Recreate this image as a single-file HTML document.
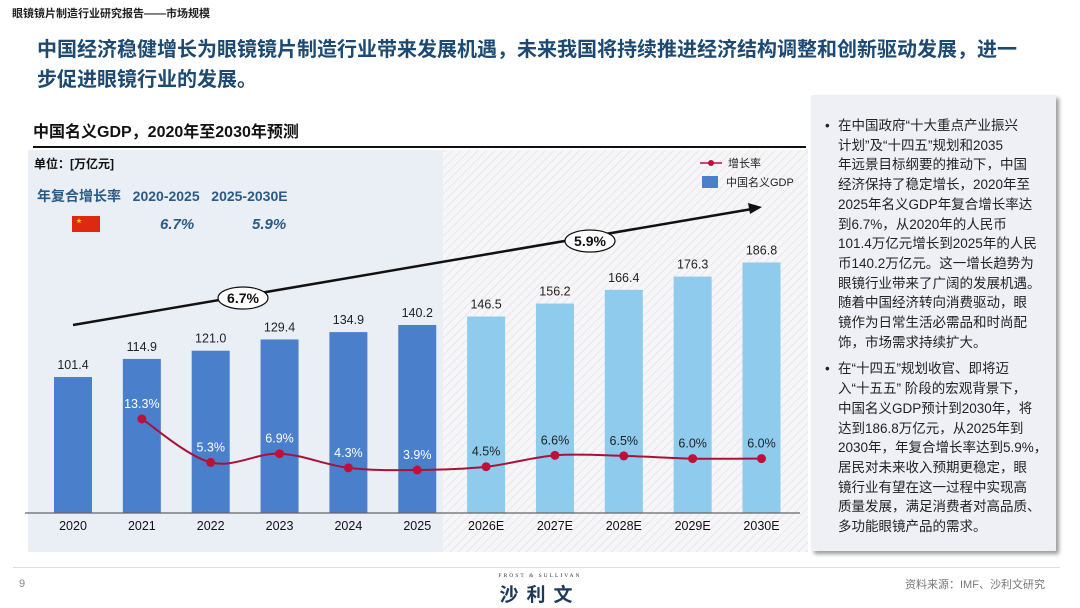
<!DOCTYPE html>
<html><head><meta charset="utf-8">
<style>
body{margin:0;width:1080px;height:608px;background:#fff;position:relative;overflow:hidden;font-family:"Liberation Sans","Noto Sans CJK SC",sans-serif;}
.abs{position:absolute;}
.rp{position:absolute;left:811px;top:95px;width:245px;height:456px;background:#eef0f5;box-shadow:3px 3px 4px #9a9a9a;}
.rp ul{margin:0;padding:0;list-style:none;position:absolute;left:14px;top:21px;width:230px;}
.rp li{position:relative;padding-left:13px;font-size:13.5px;line-height:19.7px;color:#222;margin-bottom:7px;white-space:nowrap;}
.rp li::before{content:"•";position:absolute;left:0;top:0;}
</style></head><body>
<div class="abs" style="left:12px;top:5px;font-size:11px;font-weight:bold;color:#222;">眼镜镜片制造行业研究报告——市场规模</div>
<div class="abs" style="left:37px;top:35px;width:990px;font-size:20px;line-height:30px;font-weight:bold;color:#1d4a72;">中国经济稳健增长为眼镜镜片制造行业带来发展机遇，未来我国将持续推进经济结构调整和创新驱动发展，进一步促进眼镜行业的发展。</div>
<div class="abs" style="left:33px;top:118px;font-size:16px;font-weight:bold;color:#111;">中国名义GDP，2020年至2030年预测</div>
<div class="abs" style="left:33px;top:146px;width:773px;height:2px;background:#111;"></div>

<svg class="abs" style="left:0;top:0" width="1080" height="608">
<defs>
<pattern id="hatch" width="6" height="6" patternUnits="userSpaceOnUse" patternTransform="rotate(45)">
<rect width="6" height="6" fill="#f6f6f8"/><line x1="0" y1="0" x2="0" y2="6" stroke="#e2e2e6" stroke-width="1.5"/></pattern>
</defs>
<rect x="28" y="150" width="415" height="402" fill="#eaeef5"/>
<rect x="443" y="150" width="365" height="402" fill="url(#hatch)"/>
<g id="bars"></g>
<line x1="25" y1="513" x2="800" y2="513" stroke="#666" stroke-width="1.2"/>
<g id="line"></g>
<g id="labels"></g>
<line x1="73" y1="325" x2="752" y2="209" stroke="#111" stroke-width="2.5"/>
<polygon points="762,207 748,203 750,214" fill="#111"/>
<ellipse cx="243" cy="298" rx="25" ry="11" fill="#fff" stroke="#111" stroke-width="1.2"/>
<text x="243" y="303" text-anchor="middle" font-size="14" font-weight="bold" fill="#111">6.7%</text>
<ellipse cx="590" cy="241" rx="25" ry="11" fill="#fff" stroke="#111" stroke-width="1.2"/>
<text x="590" y="246" text-anchor="middle" font-size="14" font-weight="bold" fill="#111">5.9%</text>
<line x1="700" y1="163" x2="722" y2="163" stroke="#c0103a" stroke-width="1.5"/>
<circle cx="711" cy="163" r="3" fill="#c0103a"/>
<text x="728" y="167" font-size="11" fill="#222">增长率</text>
<rect x="702" y="176" width="16" height="12" fill="#4a7fcc"/>
<text x="726" y="186" font-size="11" fill="#222">中国名义GDP</text>
<rect x="72" y="216" width="28" height="16" fill="#de2910"/>
<text x="76" y="223" font-size="6" fill="#ffde00">★</text>
</svg>

<div class="abs" style="left:34px;top:155px;font-size:12px;font-weight:bold;color:#111;">单位：[万亿元]</div>
<div class="abs" style="left:37px;top:186px;font-size:14px;font-weight:bold;color:#2a5b86;">年复合增长率 &nbsp;&nbsp;2020-2025 &nbsp;&nbsp;2025-2030E</div>
<div class="abs" style="left:160px;top:216px;font-size:15px;font-weight:bold;font-style:italic;color:#2a5b86;">6.7%</div>
<div class="abs" style="left:252px;top:216px;font-size:15px;font-weight:bold;font-style:italic;color:#2a5b86;">5.9%</div>

<div class="rp">
<ul>
<li>在中国政府“十大重点产业振兴<br>计划”及“十四五”规划和2035<br>年远景目标纲要的推动下，中国<br>经济保持了稳定增长，2020年至<br>2025年名义GDP年复合增长率达<br>到6.7%，从2020年的人民币<br>101.4万亿元增长到2025年的人民<br>币140.2万亿元。这一增长趋势为<br>眼镜行业带来了广阔的发展机遇。<br>随着中国经济转向消费驱动，眼<br>镜作为日常生活必需品和时尚配<br>饰，市场需求持续扩大。</li>
<li>在“十四五”规划收官、即将迈<br>入“十五五” 阶段的宏观背景下，<br>中国名义GDP预计到2030年，将<br>达到186.8万亿元，从2025年到<br>2030年，年复合增长率达到5.9%，<br>居民对未来收入预期更稳定，眼<br>镜行业有望在这一过程中实现高<br>质量发展，满足消费者对高品质、<br>多功能眼镜产品的需求。</li>
</ul>
</div>

<div class="abs" style="left:13px;top:567px;width:1047px;height:1px;background:#ddd;"></div>
<div class="abs" style="left:19px;top:578px;font-size:11px;color:#888;">9</div>
<div class="abs" style="left:484px;top:573px;width:112px;text-align:center;font-size:5.5px;letter-spacing:2px;color:#333;font-family:'Liberation Serif',serif;">FROST &amp; SULLIVAN</div>
<div class="abs" style="left:490px;top:580px;width:100px;text-align:center;font-size:19px;font-weight:bold;letter-spacing:8px;color:#1d3a5c;">沙利文</div>
<div class="abs" style="left:905px;top:576px;font-size:11px;color:#777;">资料来源：IMF、沙利文研究</div>

<script>
const years=["2020","2021","2022","2023","2024","2025","2026E","2027E","2028E","2029E","2030E"];
const gdp=[101.4,114.9,121.0,129.4,134.9,140.2,146.5,156.2,166.4,176.3,186.8];
const rateYears=[1,2,3,4,5,6,7,8,9,10];
const rates=[13.3,5.3,6.9,4.3,3.9,4.5,6.6,6.5,6.0,6.0];
const NS="http://www.w3.org/2000/svg";
const x0=73,step=68.85,base=513,k=1.341;
const xs=i=>x0+i*step;
const yb=v=>base-v*k;
const yr=r=>470-(r-3.9)*5.43;
const bars=document.getElementById('bars'),lab=document.getElementById('labels'),lg=document.getElementById('line');
function mk(t,a,p){const e=document.createElementNS(NS,t);for(const q in a)e.setAttribute(q,a[q]);p.appendChild(e);return e;}
gdp.forEach((v,i)=>{
 const r=mk('rect',{x:xs(i)-19,y:yb(v),width:38,height:v*k,fill:i<6?'#4a7fcc':'#8ecbec'},bars);
 
 
 const t=mk('text',{x:xs(i),y:yb(v)-8,'text-anchor':'middle','font-size':12.5,fill:'#222'},lab);
 t.textContent=v.toFixed(1);
 
 
 const c=mk('text',{x:xs(i),y:530,'text-anchor':'middle','font-size':12.5,fill:'#111'},lab);
 c.textContent=years[i];
 
 
});
const pts=rates.map((r,j)=>[xs(rateYears[j]),yr(r)]);
let d='M'+pts[0][0]+','+pts[0][1];
for(let i=0;i<pts.length-1;i++){
 const p0=pts[Math.max(0,i-1)],p1=pts[i],p2=pts[i+1],p3=pts[Math.min(pts.length-1,i+2)];
 const c1=[p1[0]+(p2[0]-p0[0])/6,p1[1]+(p2[1]-p0[1])/6],c2=[p2[0]-(p3[0]-p1[0])/6,p2[1]-(p3[1]-p1[1])/6];
 d+=` C${c1[0]},${c1[1]} ${c2[0]},${c2[1]} ${p2[0]},${p2[1]}`;
}
const path=mk('path',{d:d,fill:'none',stroke:'#a8123a','stroke-width':2},lg);


pts.forEach((p,j)=>{
 const c=mk('circle',{cx:p[0],cy:p[1],r:4.5,fill:'#c0103a'},lg);
 
 
 const t=mk('text',{x:p[0],y:p[1]-11,'text-anchor':'middle','font-size':12.5,fill:rateYears[j]<6?'#fff':'#222'},lg);
 t.textContent=rates[j].toFixed(1)+'%';
 
 
});
</script>
</body></html>
